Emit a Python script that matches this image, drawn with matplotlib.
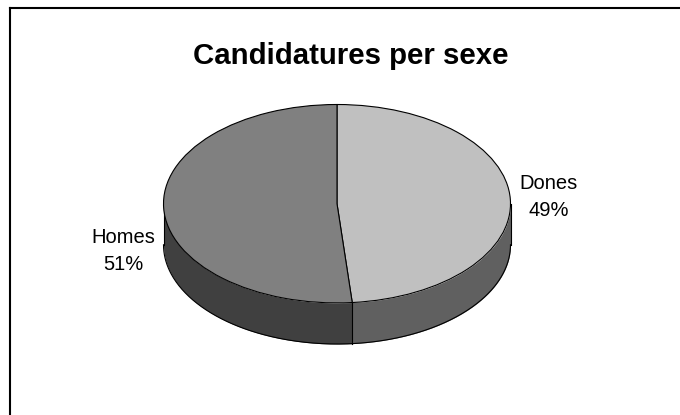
import numpy as np
import matplotlib
matplotlib.use('Agg')
import matplotlib.pyplot as plt
from matplotlib.lines import Line2D

plt.rcParams['font.family'] = ['Liberation Sans', 'DejaVu Sans']

# valors llegits del grafic
categories = ['Dones', 'Homes']
values = [48.6, 51.4]
top_colors = ['#c0c0c0', '#808080']
side_colors = ['#606060', '#404040']
title = 'Candidatures per sexe'

W, H = 680, 415
DEPTH = 41 / 99.0  # alcada del cilindre, en radis verticals

fig = plt.figure(figsize=(W / 100, H / 100), dpi=100, facecolor='white')

# la el.lipse superior va de x 163.5 a 510.5 i y 104.5 a 303
left, right, top, bottom = 163.5, 510.5, 104.5, 303.0 + 41
ax = fig.add_axes([left / W, 1 - bottom / H, (right - left) / W, (bottom - top) / H])

total = sum(values)
split_deg = 90.0 - values[0] / total * 360

# parets laterals: nomes la meitat frontal del cilindre
side_ranges = [(split_deg, 0.0), (-180.0, split_deg)]
for (a0, a1), col in zip(side_ranges, side_colors):
    t = np.radians(np.linspace(a0, a1, 200))
    ax.fill_between(np.cos(t), np.sin(t) - DEPTH, np.sin(t), color=col, lw=0, zorder=1)
    ax.plot(np.cos(t), np.sin(t) - DEPTH, color='black', lw=0.8, zorder=2)

# arestes verticals
split = np.radians(split_deg)
for x, y in [(-1, 0), (1, 0), (np.cos(split), np.sin(split))]:
    ax.plot([x, x], [y, y - DEPTH], color='black', lw=0.8, zorder=2)

ax.pie(values, colors=top_colors, startangle=90, counterclock=False, radius=1,
       wedgeprops={'edgecolor': 'black', 'linewidth': 0.8, 'zorder': 3})
ax.set_aspect('auto')
ax.set_xlim(-1, 1)
ax.set_ylim(-1 - DEPTH, 1)
ax.axis('off')
for art in ax.get_children():
    art.set_clip_on(False)

fig.text(350.5 / W, 1 - 56.5 / H, title, ha='center', va='center', fontsize=21.2, fontweight='bold', color='black')

fig.text(548.5 / W, 1 - 197 / H, '%s\n%d%%' % (categories[0], round(values[0] / total * 100)),
         ha='center', va='center', fontsize=14.5, color='black', linespacing=1.55)
fig.text(123.5 / W, 1 - 251 / H, '%s\n%d%%' % (categories[1], round(values[1] / total * 100)),
         ha='center', va='center', fontsize=14.5, color='black', linespacing=1.55)

# marc: nomes es veuen els costats superior i esquerre
fig.add_artist(Line2D([10 / W, 10 / W], [0, 1 - 8 / H], color='black', lw=1.5, solid_capstyle='projecting'))
fig.add_artist(Line2D([10 / W, 1], [1 - 8 / H, 1 - 8 / H], color='black', lw=1.5, solid_capstyle='projecting'))

fig.savefig('out.png', dpi=100, facecolor='white')
